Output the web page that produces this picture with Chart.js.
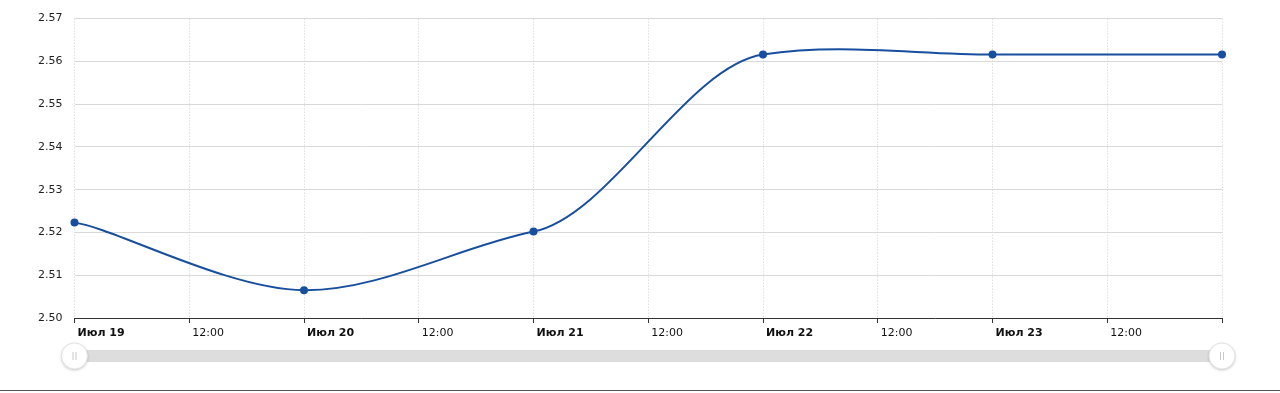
<!DOCTYPE html>
<html>
<head>
<meta charset="utf-8">
<script src="https://cdn.jsdelivr.net/npm/chart.js@4"></script>
<style>
  html, body { margin: 0; padding: 0; background: #fff; }
  #wrap { width: 1280px; height: 393px; position: relative; }
</style>
</head>
<body>
<div id="wrap"><canvas id="rateChart"></canvas></div>
<script>
// data
const days = ['Июл 19', 'Июл 20', 'Июл 21', 'Июл 22', 'Июл 23', 'Июл 24'];
const hours = [0, 24, 48, 72, 96, 120];
const rates = [2.5223, 2.5065, 2.5202, 2.5616, 2.5616, 2.5616];
const yTicks = [2.50, 2.51, 2.52, 2.53, 2.54, 2.55, 2.56, 2.57];

const lineColor = '#174f9e';

// smoothing with a flatter vertical tangent than chart.js default
const smoothPlugin = {
  id: 'smooth',
  beforeDatasetsDraw(chart) {
    const meta = chart.getDatasetMeta(0);
    const line = meta.dataset;
    line.updateControlPoints(chart.chartArea, 'x');
    const pts = meta.data;
    const kx = 1 / 6, ky = 0.4 / 6;
    pts.forEach((p, i) => {
      const a = pts[Math.max(i - 1, 0)];
      const b = pts[Math.min(i + 1, pts.length - 1)];
      const dx = b.x - a.x, dy = b.y - a.y;
      p.cp1x = p.x - dx * kx; p.cp1y = p.y - dy * ky;
      p.cp2x = p.x + dx * kx; p.cp2y = p.y + dy * ky;
    });
    line._path = undefined;
  }
};

// range slider under the chart (decoration only)
const sliderPlugin = {
  id: 'slider',
  afterDraw(chart) {
    const c = chart.ctx;
    const a = chart.chartArea;
    c.save();
    c.fillStyle = '#dddddd';
    c.fillRect(a.left, 350, a.right - a.left, 12);
    [a.left, a.right].forEach(x => {
      c.beginPath();
      c.arc(x, 356, 13, 0, Math.PI * 2);
      c.shadowColor = 'rgba(0,0,0,0.25)';
      c.shadowBlur = 3;
      c.shadowOffsetY = 1;
      c.fillStyle = '#ffffff';
      c.fill();
      c.shadowColor = 'transparent';
      c.strokeStyle = '#e2e2e2';
      c.lineWidth = 1;
      c.stroke();
      c.strokeStyle = '#c8c8c8';
      c.beginPath();
      c.moveTo(x - 1.5, 352); c.lineTo(x - 1.5, 360);
      c.moveTo(x + 1.5, 352); c.lineTo(x + 1.5, 360);
      c.stroke();
    });
    c.strokeStyle = '#555555';
    c.lineWidth = 1;
    c.beginPath();
    c.moveTo(0, 390.5); c.lineTo(1280, 390.5);
    c.stroke();
    c.restore();
  }
};

new Chart(document.getElementById('rateChart'), {
  type: 'line',
  data: {
    datasets: [{
      data: hours.map((h, i) => ({ x: h, y: rates[i] })),
      borderColor: lineColor,
      backgroundColor: lineColor,
      borderWidth: 2,
      pointRadius: 4,
      pointBorderWidth: 0,
      pointHoverRadius: 5,
      tension: 0.4,
      clip: false
    }]
  },
  options: {
    responsive: true,
    maintainAspectRatio: false,
    animation: false,
    layout: { padding: { top: 17, right: 58, bottom: 45, left: 0 } },
    plugins: { legend: { display: false }, tooltip: { enabled: false } },
    scales: {
      x: {
        type: 'linear',
        min: 0,
        max: 120,
        afterFit: s => { s.height = 30; },
        afterBuildTicks: s => {
          const t = [];
          for (let h = 0; h <= 120; h += 12) t.push({ value: h });
          s.ticks = t;
        },
        border: { display: false, dash: [1, 2] },
        grid: {
          color: '#cfcfcf',
          drawTicks: true,
          tickLength: 5,
          tickColor: '#333333',
          tickBorderDash: []
        },
        ticks: {
          align: 'start',
          labelOffset: 3,
          padding: 4,
          maxRotation: 0,
          autoSkip: false,
          color: '#111111',
          font: ctx => ({
            family: 'DejaVu Sans',
            size: 11,
            weight: ctx.tick && ctx.tick.value % 24 === 0 ? 'bold' : 'normal'
          }),
          callback: v => {
            if (v % 24 === 0) return v === hours[hours.length - 1] ? '' : days[v / 24];
            return '12:00';
          }
        }
      },
      y: {
        min: 2.50,
        max: 2.57,
        afterFit: s => { s.width = 74.5; },
        afterBuildTicks: s => { s.ticks = yTicks.map(v => ({ value: v })); },
        border: { display: false },
        grid: {
          color: ctx => (ctx.tick && ctx.tick.value === 2.5 ? '#333333' : '#d9d9d9'),
          drawTicks: false
        },
        ticks: {
          padding: 12,
          color: '#222222',
          font: { family: 'DejaVu Sans', size: 11 },
          callback: v => v.toFixed(2)
        }
      }
    }
  },
  plugins: [smoothPlugin, sliderPlugin]
});
</script>
</body>
</html>
